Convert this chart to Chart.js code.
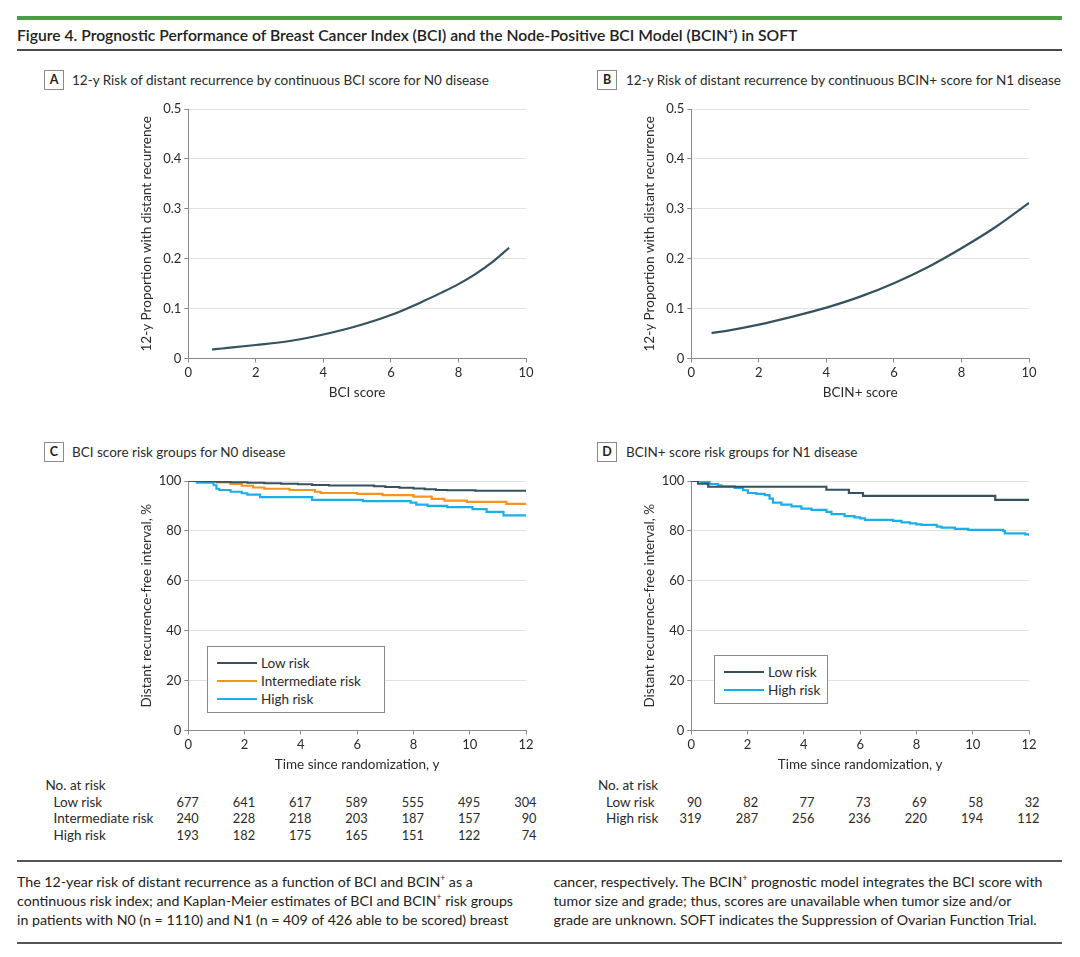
<!DOCTYPE html>
<html>
<head>
<meta charset="utf-8">
<title>Figure 4 - BCI and BCIN+ in SOFT</title>
<script src="https://cdn.jsdelivr.net/npm/chart.js@4.4.1/dist/chart.umd.min.js"></script>
<style>
  html, body { margin: 0; padding: 0; background: #fff; }
  body {
    width: 1080px; height: 957px; position: relative; overflow: hidden;
    font-family: Lato, "Open Sans", sans-serif; color: #333;
  }
  canvas { position: absolute; }
  .bar { position: absolute; left: 17px; width: 1045px; }
  .txt { position: absolute; white-space: nowrap; }
  .tag {
    position: absolute; width: 18px; height: 18px; border: 1px solid #8a8a8a;
    font-weight: 700; font-size: 12.5px; line-height: 18px; text-align: center; color: #222;
  }
  .ptitle { font-size: 13.5px; line-height: 16px; color: #2a2a2a; }
  .legend { position: absolute; border: 1px solid #8a8a8a; background: #fff; }
  .legend .sw { position: absolute; height: 2px; width: 40px; }
  .legend .lb { position: absolute; font-size: 13.5px; line-height: 16px; white-space: nowrap; color: #2a2a2a; }
</style>
</head>
<body>

<div class="bar" style="top:16px;height:4px;background:#4a9e45"></div>
<div class="txt" style="left:17px;top:25px;font-size:15.7px;line-height:20px;font-weight:600;color:#222">Figure 4. Prognostic Performance of Breast Cancer Index (BCI) and the Node-Positive BCI Model (BCIN<sup style="font-size:9px;line-height:0">+</sup>) in SOFT</div>
<div class="bar" style="top:49px;height:1.5px;background:#4a4a4a"></div>

<div class="tag" style="left:44px;top:70px">A</div>
<div class="txt ptitle" style="left:72px;top:72px">12-y Risk of distant recurrence by continuous BCI score for N0 disease</div>
<div class="tag" style="left:597px;top:70px">B</div>
<div class="txt ptitle" style="left:626px;top:72px">12-y Risk of distant recurrence by continuous BCIN+ score for N1 disease</div>
<div class="tag" style="left:44px;top:442px">C</div>
<div class="txt ptitle" style="left:72px;top:444px">BCI score risk groups for N0 disease</div>
<div class="tag" style="left:597px;top:442px">D</div>
<div class="txt ptitle" style="left:626px;top:444px">BCIN+ score risk groups for N1 disease</div>

<canvas id="chartA" width="410" height="310" style="left:130px;top:95px"></canvas>
<canvas id="chartB" width="410" height="310" style="left:633px;top:95px"></canvas>
<canvas id="chartC" width="410" height="310" style="left:130px;top:467px"></canvas>
<canvas id="chartD" width="410" height="310" style="left:633px;top:467px"></canvas>

<div id="legendC" class="legend" style="left:207px;top:646px;width:176px;height:65px"></div>
<div id="legendD" class="legend" style="left:714px;top:655px;width:112px;height:47px"></div>

<div id="tables"></div>

<div class="bar" style="top:860px;height:1.5px;background:#555"></div>
<div id="caption"></div>
<div class="bar" style="top:942px;height:1.5px;background:#555"></div>

<script>
'use strict';

// Panel A: continuous BCI score (N0)
const bciScore = [0.7, 1, 2, 3, 4, 5, 6, 7, 7.5, 8, 8.5, 9, 9.5];
const bciRisk = [0.018, 0.020, 0.027, 0.035, 0.048, 0.065, 0.087, 0.116, 0.132, 0.149, 0.169, 0.193, 0.222];

// Panel B: continuous BCIN+ score (N1)
const bcinScore = [0.6, 1, 2, 3, 4, 5, 6, 7, 8, 9, 10];
const bcinRisk = [0.051, 0.055, 0.068, 0.084, 0.102, 0.124, 0.151, 0.183, 0.221, 0.263, 0.312];

// Panel C: Kaplan-Meier, BCI risk groups (N0)
const n0LowYears = [0, 0.5, 1.0, 1.5, 2.1, 2.7, 3.3, 3.9, 4.4, 5.0, 6.6, 7.0, 7.5, 8.0, 8.4, 8.8, 9.2, 10.2, 12];
const n0LowDrfi = [100, 99.9, 99.7, 99.5, 99.3, 99.1, 98.9, 98.7, 98.4, 98.2, 97.9, 97.6, 97.3, 97.0, 96.7, 96.4, 96.3, 96.1, 96.1];
const n0IntYears = [0, 1.0, 1.5, 1.9, 2.3, 2.7, 3.6, 4.5, 4.7, 6.0, 6.9, 8.0, 8.65, 9.1, 9.9, 11.3, 12];
const n0IntDrfi = [100, 99.4, 98.8, 98.1, 97.4, 96.9, 96.4, 95.7, 95.2, 94.8, 94.3, 93.7, 92.8, 92.1, 91.6, 90.8, 90.8];
const n0HighYears = [0, 0.3, 0.9, 1.0, 1.1, 1.5, 1.9, 2.1, 2.55, 4.4, 6.2, 7.9, 8.1, 8.5, 9.2, 10.1, 10.6, 11.2, 12];
const n0HighDrfi = [100, 99.3, 98.3, 96.9, 96.4, 95.7, 95.1, 94.5, 93.5, 92.4, 91.9, 91.3, 90.5, 90.0, 89.5, 88.7, 87.6, 86.2, 86.2];

// Panel D: Kaplan-Meier, BCIN+ risk groups (N1)
const n1LowYears = [0, 0.24, 0.6, 4.8, 5.6, 6.1, 10.8, 12];
const n1LowDrfi = [100, 98.9, 97.7, 96.5, 95.2, 94.0, 92.4, 92.4];
const n1HighYears = [0, 0.36, 0.65, 0.95, 1.07, 1.54, 1.84, 2.01, 2.31, 2.61, 2.78, 2.90, 3.2, 3.56, 3.91, 4.27,
  4.8, 4.98, 5.45, 5.8, 6.0, 6.17, 7.17, 7.47, 7.77, 8.0, 8.18, 8.72, 8.89, 9.37, 9.84, 11.08, 11.14, 11.86, 12];
const n1HighDrfi = [100, 99.6, 98.8, 98.3, 97.9, 97.2, 96.3, 95.2, 94.8, 94.3, 92.9, 91.3, 90.5, 89.8, 88.9, 88.4,
  87.6, 86.7, 85.9, 85.4, 85.0, 84.4, 84.0, 83.4, 83.0, 82.6, 82.4, 81.7, 81.3, 80.8, 80.4, 80.0, 79.0, 78.6, 78.1];

// Number at risk tables
const atRiskYears = [0, 2, 4, 6, 8, 10, 12];
const n0GroupNames = ['Low risk', 'Intermediate risk', 'High risk'];
const n0AtRisk = [
  [677, 641, 617, 589, 555, 495, 304],
  [240, 228, 218, 203, 187, 157, 90],
  [193, 182, 175, 165, 151, 122, 74]
];
const n1GroupNames = ['Low risk', 'High risk'];
const n1AtRisk = [
  [90, 82, 77, 73, 69, 58, 32],
  [319, 287, 256, 236, 220, 194, 112]
];

const captionLeft = [
  'The 12-year risk of distant recurrence as a function of BCI and BCIN<sup>+</sup> as a',
  'continuous risk index; and Kaplan-Meier estimates of BCI and BCIN<sup>+</sup> risk groups',
  'in patients with N0 (n = 1110) and N1 (n = 409 of 426 able to be scored) breast'
];
const captionRight = [
  'cancer, respectively. The BCIN<sup>+</sup> prognostic model integrates the BCI score with',
  'tumor size and grade; thus, scores are unavailable when tumor size and/or',
  'grade are unknown. SOFT indicates the Suppression of Ovarian Function Trial.'
];

// Colours
const darkTeal = '#35525e';
const orange = '#f7941d';
const cyan = '#1aafe9';

Chart.defaults.font.family = 'Lato, "Open Sans", sans-serif';
Chart.defaults.color = '#2a2a2a';

function toPoints(xs, ys) {
  return xs.map((x, i) => ({ x: x, y: ys[i] }));
}

function curve(label, xs, ys, color, stepped) {
  return {
    label: label,
    data: toPoints(xs, ys),
    borderColor: color,
    backgroundColor: color,
    borderWidth: 2.2,
    pointRadius: 0,
    fill: false,
    stepped: stepped ? 'before' : false,
    tension: stepped ? 0 : 0.4,
    cubicInterpolationMode: stepped ? 'default' : 'monotone'
  };
}

// Build one panel. xAxis/yAxis hold min, max, step and title text.
function makePanel(canvasId, datasets, xAxis, yAxis) {
  const ctx = document.getElementById(canvasId).getContext('2d');
  return new Chart(ctx, {
    type: 'line',
    data: { datasets: datasets },
    options: {
      responsive: false,
      animation: false,
      layout: { padding: { top: 14, right: 14, left: 0, bottom: 0 } },
      plugins: { legend: { display: false }, tooltip: { enabled: false } },
      scales: {
        x: {
          type: 'linear',
          min: xAxis.min,
          max: xAxis.max,
          ticks: { stepSize: xAxis.step, padding: 3, font: { size: 13 }, color: '#2a2a2a' },
          grid: { drawOnChartArea: false, tickLength: 4, tickColor: '#8a8a8a' },
          border: { color: '#8a8a8a' },
          title: { display: true, text: xAxis.title, font: { size: 13.5 }, color: '#2a2a2a', padding: { top: 0, bottom: 4.5 } },
          afterFit: (scale) => { scale.height = 46.5; }
        },
        y: {
          min: yAxis.min,
          max: yAxis.max,
          ticks: {
            stepSize: yAxis.step, padding: 3, font: { size: 13 }, color: '#2a2a2a',
            callback: (v) => yAxis.step < 1 ? (v === 0 ? '0' : v.toFixed(1)) : String(v)
          },
          grid: { color: '#e2e2e2', tickLength: 4, tickColor: '#8a8a8a' },
          border: { color: '#8a8a8a' },
          title: { display: true, text: yAxis.title, font: { size: 13.5 }, color: '#2a2a2a', padding: { top: 8.5, bottom: 0 } },
          afterFit: (scale) => { scale.width = 58.3; }
        }
      }
    }
  });
}

const riskAxis = { min: 0, max: 0.5, step: 0.1, title: '12-y Proportion with distant recurrence' };
const drfiAxis = { min: 0, max: 100, step: 20, title: 'Distant recurrence-free interval, %' };
const timeAxis = { min: 0, max: 12, step: 2, title: 'Time since randomization, y' };

makePanel('chartA', [curve('BCI', bciScore, bciRisk, darkTeal, false)],
  { min: 0, max: 10, step: 2, title: 'BCI score' }, riskAxis);
makePanel('chartB', [curve('BCIN+', bcinScore, bcinRisk, darkTeal, false)],
  { min: 0, max: 10, step: 2, title: 'BCIN+ score' }, riskAxis);

const chartC = makePanel('chartC', [
  curve('Low risk', n0LowYears, n0LowDrfi, darkTeal, true),
  curve('Intermediate risk', n0IntYears, n0IntDrfi, orange, true),
  curve('High risk', n0HighYears, n0HighDrfi, cyan, true)
], timeAxis, drfiAxis);

const chartD = makePanel('chartD', [
  curve('Low risk', n1LowYears, n1LowDrfi, darkTeal, true),
  curve('High risk', n1HighYears, n1HighDrfi, cyan, true)
], timeAxis, drfiAxis);

// Legends in the lower left of the KM panels, built from the datasets
function buildLegend(boxId, chart) {
  const box = document.getElementById(boxId);
  chart.data.datasets.forEach((ds, i) => {
    const sw = document.createElement('div');
    sw.className = 'sw';
    sw.style.left = '9px';
    sw.style.top = (15 + i * 18) + 'px';
    sw.style.background = ds.borderColor;
    box.appendChild(sw);
    const lb = document.createElement('div');
    lb.className = 'lb';
    lb.style.left = '53px';
    lb.style.top = (8 + i * 18) + 'px';
    lb.textContent = ds.label;
    box.appendChild(lb);
  });
}
buildLegend('legendC', chartC);
buildLegend('legendD', chartD);

// Number-at-risk tables, columns right-aligned just past each year tick
const tables = document.getElementById('tables');
function addText(text, left, top, size, right) {
  const el = document.createElement('div');
  el.className = 'txt';
  el.style.fontSize = size + 'px';
  el.style.lineHeight = '16px';
  el.style.top = top + 'px';
  el.style.color = '#2a2a2a';
  if (right !== undefined) {
    el.style.left = (right - 40) + 'px';
    el.style.width = '40px';
    el.style.textAlign = 'right';
  } else {
    el.style.left = left + 'px';
  }
  el.textContent = text;
  tables.appendChild(el);
}

function buildTable(chart, canvasLeft, headLeft, names, rows) {
  addText('No. at risk', headLeft, 776.5, 13.5);
  rows.forEach((row, r) => {
    const top = 793.7 + r * 16.65;
    addText(names[r], headLeft + 8, top, 13.5);
    row.forEach((n, c) => {
      const tickX = canvasLeft + chart.scales.x.getPixelForValue(atRiskYears[c]);
      addText(String(n), 0, top, 12.8, tickX + 10.5);
    });
  });
}
buildTable(chartC, 130, 45.5, n0GroupNames, n0AtRisk);
buildTable(chartD, 633, 598, n1GroupNames, n1AtRisk);

// Caption, two columns
const caption = document.getElementById('caption');
function captionColumn(lines, left) {
  lines.forEach((line, i) => {
    const el = document.createElement('div');
    el.className = 'txt';
    el.style.left = left + 'px';
    el.style.top = (872 + i * 19.2) + 'px';
    el.style.fontSize = '14.2px';
    el.style.lineHeight = '19px';
    el.style.color = '#222';
    el.innerHTML = line.replace(/<sup>/g, '<sup style="font-size:8.5px;line-height:0">');
    caption.appendChild(el);
  });
}
captionColumn(captionLeft, 17);
captionColumn(captionRight, 553.5);
</script>
</body>
</html>
